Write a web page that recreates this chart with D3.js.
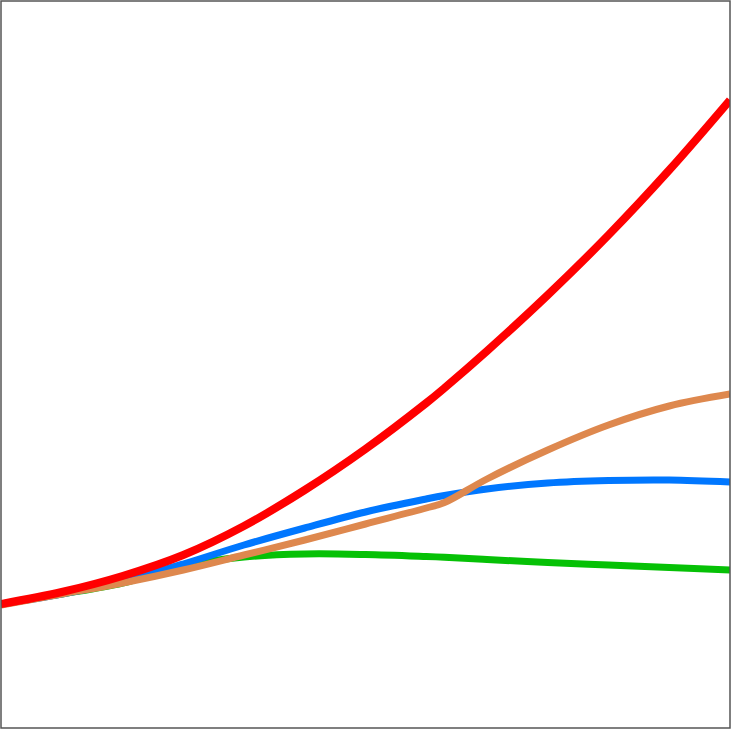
<!DOCTYPE html>
<html>
<head>
<meta charset="utf-8">
<script src="https://cdn.jsdelivr.net/npm/d3@7"></script>
<style>
  html, body { margin: 0; padding: 0; background: #fff; }
  svg { display: block; }
</style>
</head>
<body>
<div id="chart"></div>
<script>
// x positions (shared by every series)
const xValues = [0, 1, 2, 3, 4, 5, 6, 7, 7.3, 8, 9, 10, 11, 12];

// series values
const redValues    = [0, 0.24, 0.56, 0.98, 1.56, 2.28, 3.10, 4.02, 4.32, 5.06, 6.18, 7.38, 8.68, 10.08];
const blueValues   = [0, 0.20, 0.46, 0.80, 1.18, 1.52, 1.84, 2.10, 2.17, 2.30, 2.42, 2.47, 2.48, 2.44];
const orangeValues = [-0.02, 0.20, 0.42, 0.68, 0.98, 1.28, 1.60, 1.92, 2.03, 2.50, 3.08, 3.58, 3.96, 4.20];
const greenValues  = [0, 0.20, 0.42, 0.76, 0.94, 1.00, 0.99, 0.95, 0.935, 0.89, 0.83, 0.78, 0.73, 0.68];

const series = [
    { name: "green",  values: greenValues,  color: "#06c106", width: 7 },
    { name: "blue",   values: blueValues,   color: "#0077ff", width: 7 },
    { name: "orange", values: orangeValues, color: "#de884e", width: 7 },
    { name: "red",    values: redValues,    color: "#ff0000", width: 8 }
];

const W = 733, H = 730;
const plot = { left: 1, right: 730, top: 1, bottom: 728 };

const svg = d3.select("#chart").append("svg")
    .attr("width", W)
    .attr("height", H);

const x = d3.scaleLinear().domain([0, 12]).range([plot.left, plot.right]);
const y = d3.scaleLinear().domain([-2.48, 12.06]).range([plot.bottom, plot.top]);

svg.append("clipPath")
    .attr("id", "clip")
    .append("rect")
    .attr("x", plot.left)
    .attr("y", plot.top)
    .attr("width", plot.right - plot.left)
    .attr("height", plot.bottom - plot.top);

const line = d3.line()
    .x((d, i) => x(xValues[i]))
    .y(d => y(d))
    .curve(d3.curveCatmullRom.alpha(0.5));

const g = svg.append("g").attr("clip-path", "url(#clip)");

series.forEach(s => {
    g.append("path")
        .datum(s.values)
        .attr("fill", "none")
        .attr("stroke", s.color)
        .attr("stroke-width", s.width)
        .attr("d", line);
});

// frame
svg.append("rect")
    .attr("x", plot.left)
    .attr("y", plot.top)
    .attr("width", plot.right - plot.left)
    .attr("height", plot.bottom - plot.top)
    .attr("fill", "none")
    .attr("stroke", "#555")
    .attr("stroke-width", 1.5);
</script>
</body>
</html>
